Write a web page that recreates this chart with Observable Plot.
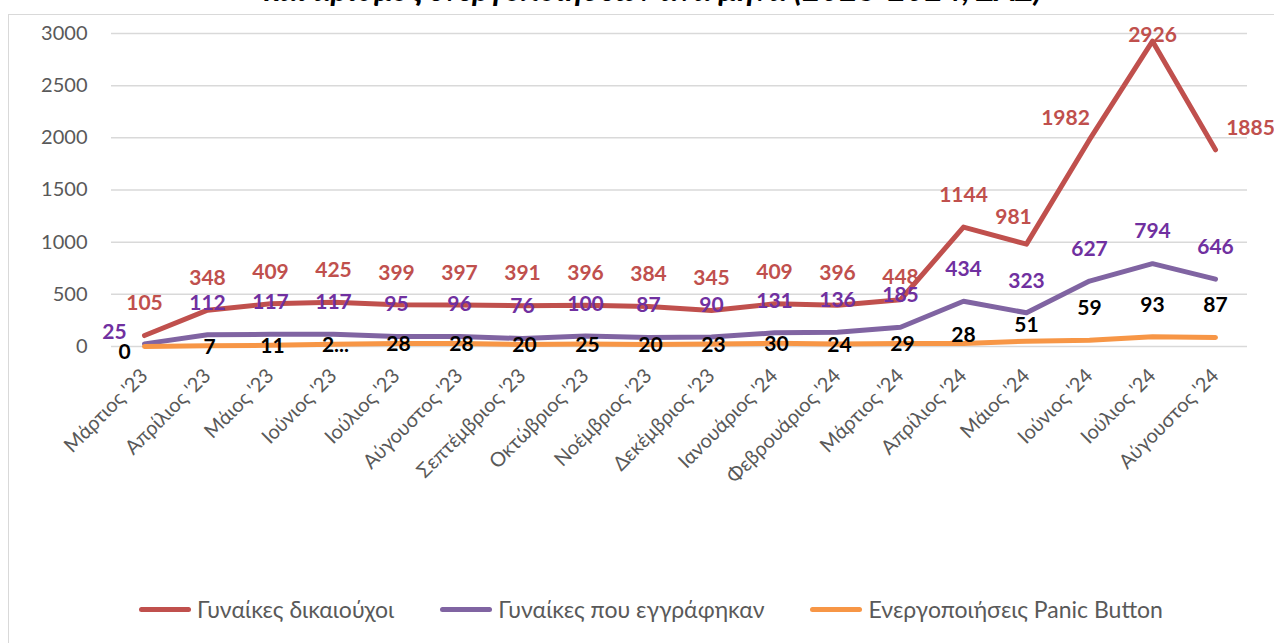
<!DOCTYPE html>
<html>
<head>
<meta charset="utf-8">
<script src="https://cdn.jsdelivr.net/npm/d3@7"></script>
<script src="https://cdn.jsdelivr.net/npm/@observablehq/plot@0.6"></script>
<style>
  html, body { margin: 0; padding: 0; background: #fff; }
  body { width: 1274px; height: 643px; position: relative; overflow: hidden; font-family: Lato, "Open Sans", sans-serif; }
  #title { position: absolute; left: 0; width: 1306px; top: -30px; text-align: center; font: italic bold 32px Lato, sans-serif; color: #000; white-space: nowrap; line-height: 1.2; }
  #frame { position: absolute; left: 8px; top: 14px; width: 1400px; height: 800px; border: 1.5px solid #d9d9d9; box-sizing: border-box; }
  #chart { position: absolute; left: 0; top: 0; }
  #legend { position: absolute; left: 14px; width: 1274px; top: 595px; display: flex; justify-content: center; align-items: center; font: 23px Lato, sans-serif; color: #595959; }
  .item { display: flex; align-items: center; margin: 0 23px; }
  .sw { display: inline-block; width: 52px; height: 5px; border-radius: 3px; margin-right: 6px; }
</style>
</head>
<body>
<div id="title">και αριθμός ενεργοποιήσεων ανά μήνα (2023-2024, ΣΑΣ)</div>
<div id="frame"></div>
<div id="chart"></div>
<div id="legend"></div>
<script>
// ---- Data ----
const months = ["Μάρτιος '23","Απρίλιος '23","Μάιος '23","Ιούνιος '23","Ιούλιος '23","Αύγουστος '23","Σεπτέμβριος '23","Οκτώβριος '23","Νοέμβριος '23","Δεκέμβριος '23","Ιανουάριος '24","Φεβρουάριος '24","Μάρτιος '24","Απρίλιος '24","Μάιος '24","Ιούνιος '24","Ιούλιος '24","Αύγουστος '24"];
const beneficiaries = [105,348,409,425,399,397,391,396,384,345,409,396,448,1144,981,1982,2926,1885];
const registered = [25,112,117,117,95,96,76,100,87,90,131,136,185,434,323,627,794,646];
const panic = [0,7,11,22,28,28,20,25,20,23,30,24,29,28,51,59,93,87];
const seriesNames = ["Γυναίκες δικαιούχοι","Γυναίκες που εγγράφηκαν","Ενεργοποιήσεις Panic Button"];
const yTicks = [0,500,1000,1500,2000,2500,3000];

// ---- Styles / layout ----
const lineColors = ["#c0504d","#8064a2","#f79646"];
const labelColors = ["#c0504d","#7030a0","#000000"];
// label offsets (dx, dy) per series, by index
const offsets = [
  i => i === 12 ? [0,-22] : i === 14 ? [-13,-27] : i === 15 ? [-24,-21] : i === 16 ? [0,-6] : i === 17 ? [35,-22] : [0,-32],
  i => i === 0 ? [-30,-12] : [0,-32],
  i => i === 0 ? [-20,6] : i <= 12 ? [2,1] : i === 13 ? [0,-8] : i === 14 ? [0,-16] : [0,-32]
];
const labelText = [v => String(v), v => String(v), (v, i) => i === 3 ? "2..." : String(v)];

const allSeries = [beneficiaries, registered, panic];
const tables = allSeries.map((vals, s) => vals.map((v, i) => ({month: months[i], value: v, i, s})));

const marks = [
  Plot.gridY(yTicks, {stroke: "#d9d9d9", strokeOpacity: 1, strokeWidth: 1.5}),
  Plot.axisY(yTicks, {tickSize: 0, tickPadding: 24, fontSize: 20, fill: "#595959", tickFormat: d => String(d)}),
  Plot.axisX({tickRotate: -45, tickSize: 0, tickPadding: 26, fontSize: 20, fill: "#595959"}),
];
tables.forEach((t, s) => {
  marks.push(Plot.line(t, {x: "month", y: "value", stroke: lineColors[s], strokeWidth: 5, strokeLinecap: "round", strokeLinejoin: "round"}));
});
tables.forEach((t, s) => {
  const groups = d3.group(t, d => offsets[s](d.i).join(","));
  for (const [key, rows] of groups) {
    const [dx, dy] = key.split(",").map(Number);
    marks.push(Plot.text(rows, {x: "month", y: "value", text: d => labelText[s](d.value, d.i), dx, dy, fill: labelColors[s], fontSize: 21, fontWeight: "bold"}));
  }
});

const chart = Plot.plot({
  width: 1274,
  height: 580,
  marginTop: 33,
  marginBottom: 234,
  marginLeft: 111,
  marginRight: 27,
  style: {fontFamily: "Lato, 'Open Sans', sans-serif", background: "transparent", overflow: "visible"},
  x: {type: "point", domain: months, padding: 0.5, label: null},
  y: {domain: [0, 3000], label: null},
  marks
});
document.getElementById("chart").appendChild(chart);

const legend = document.getElementById("legend");
seriesNames.forEach((name, s) => {
  const item = document.createElement("div");
  item.className = "item";
  const sw = document.createElement("span");
  sw.className = "sw";
  sw.style.background = lineColors[s];
  const tx = document.createElement("span");
  tx.textContent = name;
  item.appendChild(sw); item.appendChild(tx);
  legend.appendChild(item);
});
</script>
</body>
</html>
